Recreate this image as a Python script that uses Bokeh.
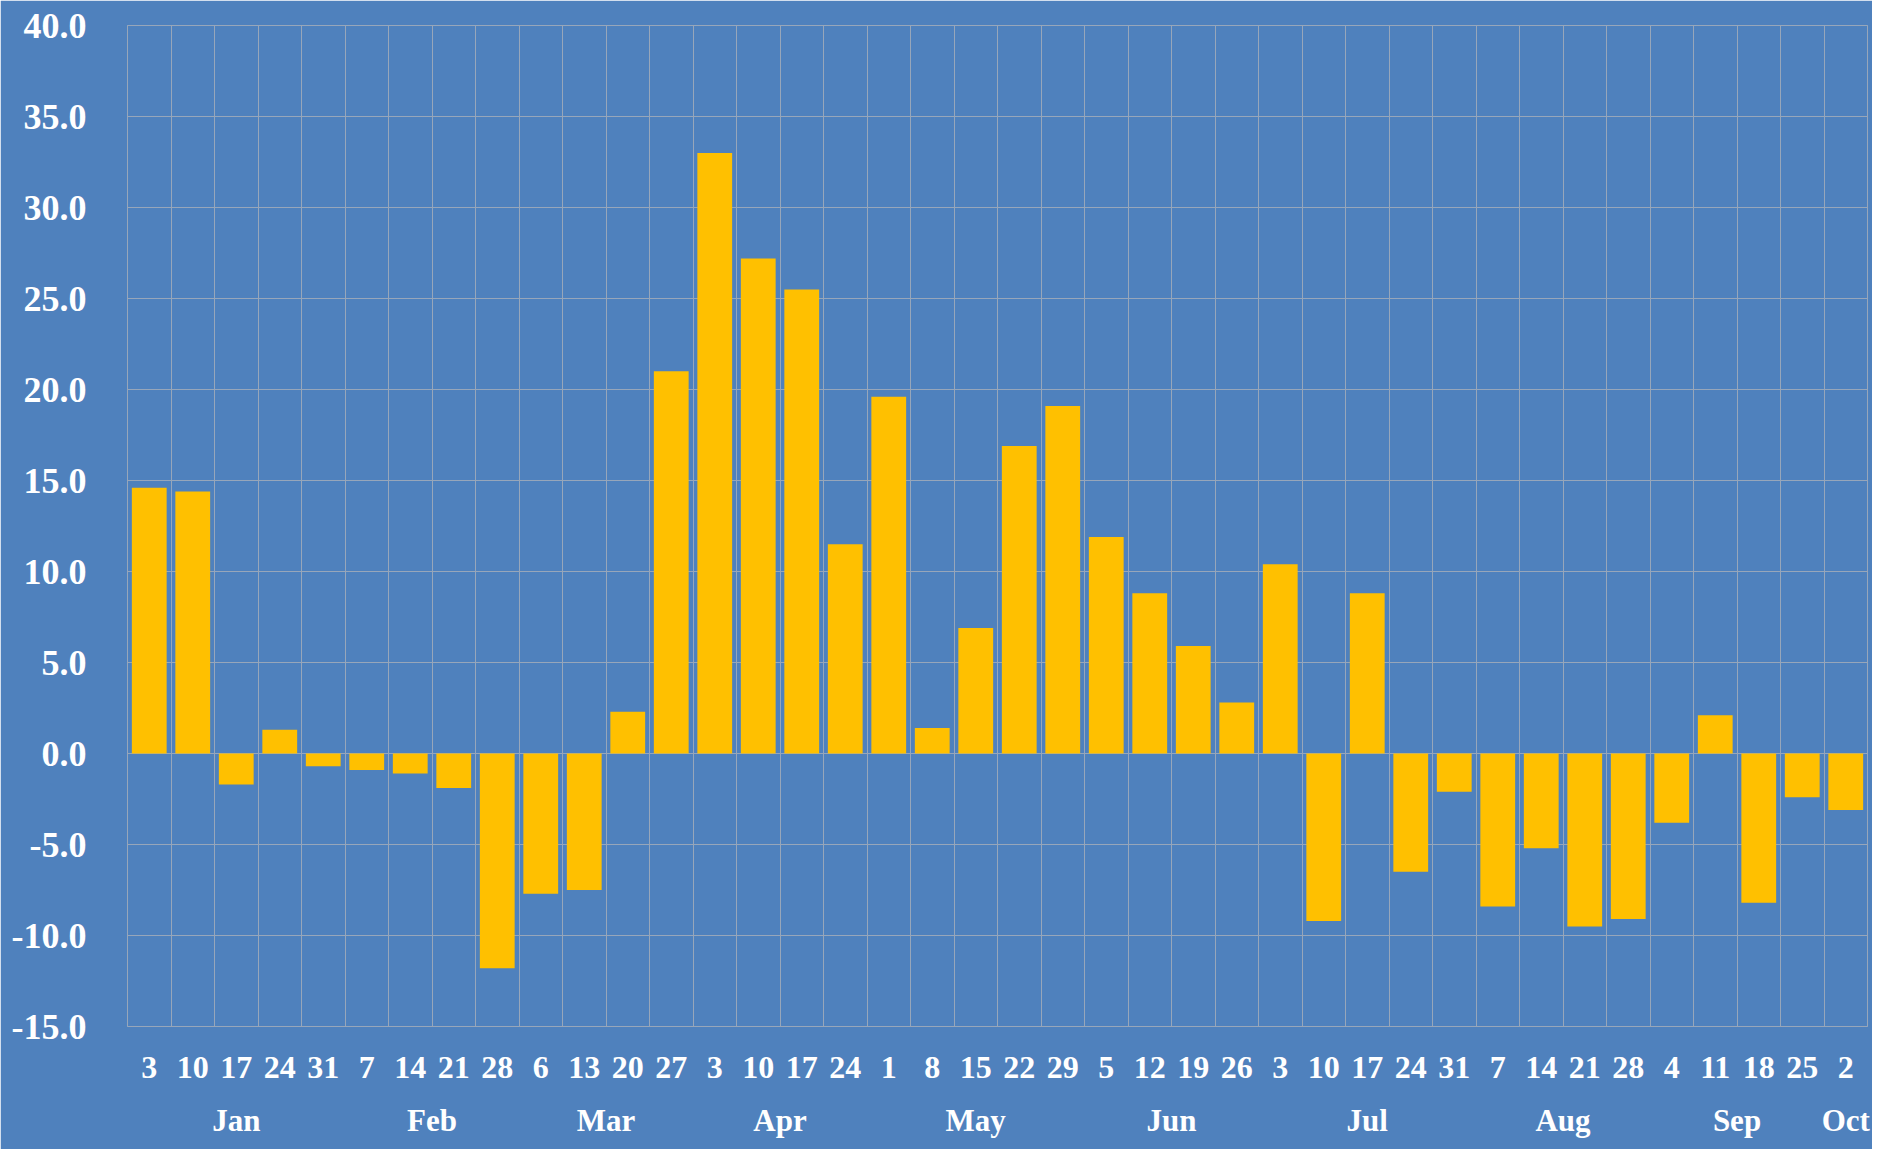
import numpy as np
from bokeh.plotting import figure
from bokeh.models import ColumnDataSource, FixedTicker, LinearAxis, NumeralTickFormatter, Range1d
from bokeh.embed import file_html
from bokeh.resources import INLINE

months = ["Jan"] * 5 + ["Feb"] * 4 + ["Mar"] * 4 + ["Apr"] * 4 + ["May"] * 5 + \
         ["Jun"] * 4 + ["Jul"] * 5 + ["Aug"] * 4 + ["Sep"] * 4 + ["Oct"] * 1
days = ["3", "10", "17", "24", "31", "7", "14", "21", "28", "6", "13", "20", "27",
        "3", "10", "17", "24", "1", "8", "15", "22", "29", "5", "12", "19", "26",
        "3", "10", "17", "24", "31", "7", "14", "21", "28", "4", "11", "18", "25", "2"]
values = [14.6, 14.4, -1.7, 1.3, -0.7, -0.9, -1.1, -1.9, -11.8, -7.7, -7.5, 2.3, 21.0,
          33.0, 27.2, 25.5, 11.5, 19.6, 1.4, 6.9, 16.9, 19.1, 11.9, 8.8, 5.9, 2.8,
          10.4, -9.2, 8.8, -6.5, -2.1, -8.4, -5.2, -9.5, -9.1, -3.8, 2.1, -8.2, -2.4, -3.1]
y_ticks = [-15, -10, -5, 0, 5, 10, 15, 20, 25, 30, 35, 40]

BG = "#4F81BD"
BAR = "#FFC000"
GRID = "#97A6BA"
FONT = "Liberation Serif"

n = len(values)
x = np.arange(n) + 0.5
src = ColumnDataSource(dict(x=x, top=values))

# month group centres
month_order = []
for m in months:
    if m not in month_order:
        month_order.append(m)
month_centers = {}
for m in month_order:
    idx = [i for i, mm in enumerate(months) if mm == m]
    month_centers[m] = (idx[0] + idx[-1]) / 2 + 0.5

p = figure(width=1872, height=1149, output_backend="svg", toolbar_location=None,
           x_range=Range1d(0, n), y_range=Range1d(y_ticks[0], y_ticks[-1]),
           background_fill_color=BG, border_fill_color=BG,
           min_border_left=127, min_border_right=5, min_border_top=25, min_border_bottom=123,
           x_axis_location=None)
p.outline_line_color = GRID

p.vbar(x="x", top="top", bottom=0, width=0.8, source=src, fill_color=BAR, line_color=None)

# y axis
ya = p.yaxis[0]
ya.ticker = FixedTicker(ticks=y_ticks)
ya.formatter = NumeralTickFormatter(format="0.0")
ya.axis_line_color = None
ya.major_tick_line_color = None
ya.minor_tick_line_color = None
ya.major_label_standoff = 35
ya.major_label_text_font = FONT
ya.major_label_text_font_style = "bold"
ya.major_label_text_font_size = "36px"
ya.major_label_text_color = "white"

# grids
p.ygrid.ticker = FixedTicker(ticks=y_ticks)
p.ygrid.grid_line_color = GRID
p.xgrid.ticker = FixedTicker(ticks=list(range(n + 1)))
p.xgrid.grid_line_color = GRID

# day axis
day_axis = LinearAxis(ticker=FixedTicker(ticks=list(x)),
                      major_label_overrides={float(xx): d for xx, d in zip(x, days)})
# month axis
month_axis = LinearAxis(ticker=FixedTicker(ticks=[month_centers[m] for m in month_order]),
                        major_label_overrides={float(month_centers[m]): m for m in month_order})
for ax, size, standoff in [(day_axis, "32px", 30), (month_axis, "31px", 22)]:
    ax.axis_line_color = None
    ax.major_tick_line_color = None
    ax.minor_tick_line_color = None
    ax.major_tick_out = 0
    ax.major_tick_in = 0
    ax.major_label_standoff = standoff
    ax.major_label_text_font = FONT
    ax.major_label_text_font_style = "bold"
    ax.major_label_text_font_size = size
    ax.major_label_text_color = "white"
p.add_layout(day_axis, "below")
p.add_layout(month_axis, "below")

open("out.html", "w").write(file_html(p, INLINE))
